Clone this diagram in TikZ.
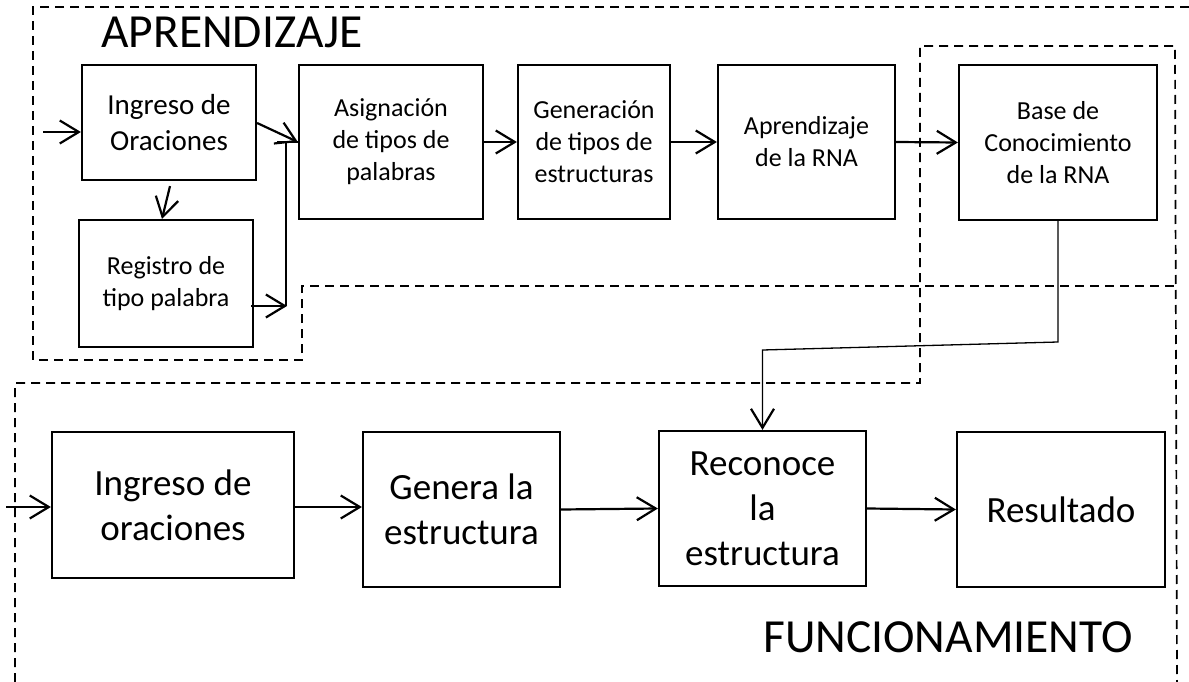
\documentclass[tikz,border=0pt]{standalone}
\usepackage{fontspec}
\setmainfont{Carlito}
\usetikzlibrary{arrows.meta,calc}
\begin{document}
\begin{tikzpicture}[x=1pt,y=-1pt,
  box/.style={draw, line width=2.2pt, align=center, inner sep=2pt},
  small/.style={font=\fontsize{26}{32}\selectfont},
  mid/.style={font=\fontsize{29}{36}\selectfont},
  big/.style={font=\fontsize{37}{45}\selectfont},
  title/.style={font=\fontsize{47.5}{56}\selectfont, inner sep=0pt, anchor=base west},
  arr/.style={line width=2.2pt, -{Straight Barb[length=19pt,width=23pt]}},
  thinarr/.style={line width=1.3pt, -{Straight Barb[length=19pt,width=23pt,line width=2.2pt]}},
  thinline/.style={line width=1.3pt},
  border/.style={line width=1.7pt, dash pattern=on 9pt off 6pt}]
\useasboundingbox (0,0) rectangle (1189,682);
\fill[white] (0,0) rectangle (1189,682);

% dashed regions
\draw[border] (1189,7) -- (33,7) -- (33,360) -- (302,360) -- (302,286) -- (1177,286);
\draw[border] (15,682) -- (15,383) -- (920,383) -- (920,46) -- (1175,46) -- (1177,682);

% titles
\node[title] (t1) at (101,48) {APRENDIZAJE};
\node[title] (t2) at (763,652) {FUNCIONAMIENTO};

% top row
\node[box, mid, minimum width=174pt, minimum height=115pt] (ing1) at (169,122.5) {Ingreso de\\Oraciones};
\node[box, small, minimum width=174pt, minimum height=127pt] (reg) at (166,283.5) {Registro de\\tipo palabra};
\node[box, small, minimum width=184pt, minimum height=154pt] (asig) at (391,142) {Asignación\\de tipos de\\palabras};
\node[box, small, minimum width=152pt, minimum height=154pt] (gen) at (594,142) {Generación\\de tipos de\\estructuras};
\node[box, small, minimum width=177pt, minimum height=154pt] (apr) at (806.5,142) {Aprendizaje\\de la RNA};
\node[box, small, minimum width=198pt, minimum height=155pt] (base) at (1058,142.5) {Base de\\Conocimiento\\de la RNA};

% bottom row
\node[box, big, minimum width=242pt, minimum height=146pt] (ing2) at (173,505) {Ingreso de\\oraciones};
\node[box, big, minimum width=197pt, minimum height=155pt] (genera) at (461.5,509.5) {Genera la\\estructura};
\node[box, big, minimum width=207pt, minimum height=155pt] (rec) at (762.5,508.5) {Reconoce\\la\\estructura};
\node[box, big, minimum width=208pt, minimum height=155pt] (res) at (1061,509.5) {Resultado};

% free ends
\coordinate (in1) at (43,132);
\coordinate (in2) at (6,507);
\coordinate (j1) at (287,306);
\coordinate (k1) at (1058,342);
\coordinate (k2) at (762.5,350);

% top connectors
\draw[arr] (in1) -- (in1 -| ing1.west);
\draw[arr] ($(ing1.south)+(1,5)$) -- ($(reg.north)+(-4,0)$);
\draw[arr] ($(ing1.east)+(0,0.5)$) -- (asig.west);
\draw[arr] ($(reg.east)+(-3,22.5)$) -- (j1);
\draw[thinline] ($(j1)+(-1,0)$) -- ($(j1 |- asig.west)+(-1,0)$);
\draw[line width=2.2pt] ($(asig.west)+(-21,0)$) -- (asig.west);
\draw[arr] (asig.east) -- (gen.west);
\draw[arr] (gen.east) -- (apr.west);
\draw[arr] (apr.east) -- (base.west);
\draw[thinarr] (base.south) -- (k1) -- (k2) -- (rec.north);

% bottom connectors
\draw[arr] (in2) -- (in2 -| ing2.west);
\draw[arr] ($(ing2.east)+(0,2)$) -- ($(genera.west)+(0,-2.5)$);
\draw[arr] (genera.east) -- (rec.west);
\draw[arr] (rec.east) -- (res.west);
\end{tikzpicture}
\end{document}
